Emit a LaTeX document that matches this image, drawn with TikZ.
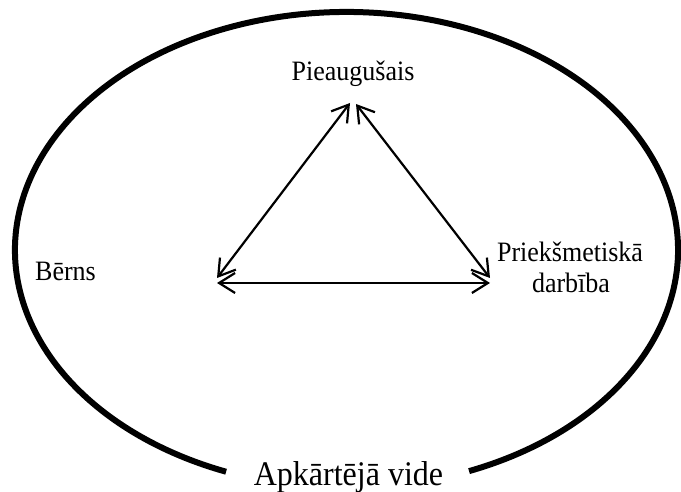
\documentclass[tikz,border=0pt]{standalone}
\usepackage{fontspec}
\usepackage{graphicx}
\setmainfont{Liberation Serif}
\usetikzlibrary{arrows.meta}
% slightly taller lettering
\newcommand{\tallbox}[1]{\scalebox{1}[1.08]{#1}}
\begin{document}
\begin{tikzpicture}[x=1pt,y=1pt,
  ring/.style={line width=6pt, line cap=butt},
  link/.style={line width=2.2pt, {Straight Barb[length=16pt,width=20pt]}-{Straight Barb[length=16pt,width=20pt]}},
  lbl/.style={font=\fontsize{26}{31}\selectfont, inner sep=0pt},
  biglbl/.style={font=\fontsize{32}{38}\selectfont, inner sep=0pt}]
\useasboundingbox (0,0) rectangle (681,492);

% surrounding environment: open ellipse with a gap at the bottom
\coordinate (c) at (346.5,242);
\draw[ring] (c) ++(291.7:331.5pt and 238pt)
  arc[start angle=291.7, end angle=608.7, x radius=331.5pt, y radius=238pt];

% labels
\node[lbl, anchor=base] (adult) at (353,411) {\tallbox{Pieaugušais}};
\node[lbl, anchor=base] (child) at (65.5,211) {\tallbox{Bērns}};
\node[lbl, anchor=base] (act1) at (570,230) {\tallbox{Priekšmetiskā}};
\node[lbl, anchor=base] (act2) at (571,199) {\tallbox{darbība}};
\node[biglbl, anchor=base] (env) at (348.5,6) {\tallbox{Apkārtējā vide}};

% triangle corners
\coordinate (topL) at (350,389);
\coordinate (topR) at (356,388);
\coordinate (diagL) at (217,214);
\coordinate (diagR) at (490,214);
\coordinate (baseL) at (217,209);
\coordinate (baseR) at (490,209);

% two-way relations
\draw[link] (diagL) -- (topL);
\draw[link] (topR) -- (diagR);
\draw[link] (baseL) -- (baseR);
\end{tikzpicture}
\end{document}
